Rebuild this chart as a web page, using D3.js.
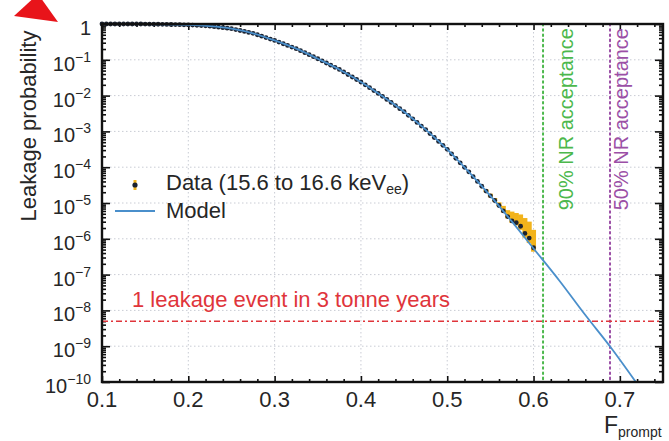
<!DOCTYPE html>
<html><head><meta charset="utf-8">
<script src="https://cdn.jsdelivr.net/npm/d3@7"></script>
<style>body{margin:0;background:#fff}svg{display:block}</style>
</head><body>
<script>
// ---- data ----
const xTickValues = [0.1, 0.2, 0.3, 0.4, 0.5, 0.6, 0.7];
const xTickLabels = ["0.1", "0.2", "0.3", "0.4", "0.5", "0.6", "0.7"];
const yExponents = [0, -1, -2, -3, -4, -5, -6, -7, -8, -9, -10];

const dataF = [0.100,0.105,0.110,0.115,0.120,0.125,0.130,0.135,0.140,0.145,
  0.150,0.155,0.160,0.165,0.170,0.175,0.180,0.185,0.190,0.195,
  0.200,0.205,0.210,0.215,0.220,0.225,0.230,0.235,0.240,0.245,
  0.250,0.255,0.260,0.265,0.270,0.275,0.280,0.285,0.290,0.295,
  0.300,0.305,0.310,0.315,0.320,0.325,0.330,0.335,0.340,0.345,
  0.350,0.355,0.360,0.365,0.370,0.375,0.380,0.385,0.390,0.395,
  0.400,0.405,0.410,0.415,0.420,0.425,0.430,0.435,0.440,0.445,
  0.450,0.455,0.460,0.465,0.470,0.475,0.480,0.485,0.490,0.495,
  0.500,0.505,0.510,0.515,0.520,0.525,0.530,0.535,0.540,0.545,
  0.550,0.555,0.560,0.565,0.570,0.575,0.580,0.585,0.590,0.595,0.600];
// log10 of leakage probability
const dataLogP = [0,0,0,0,0,0,0,0,0,0,
  -0.003,-0.004,-0.005,-0.007,-0.009,-0.011,-0.014,-0.017,-0.020,-0.022,
  -0.025,-0.031,-0.038,-0.045,-0.052,-0.060,-0.074,-0.088,-0.102,-0.116,
  -0.130,-0.156,-0.182,-0.208,-0.234,-0.260,-0.300,-0.340,-0.380,-0.420,
  -0.460,-0.506,-0.552,-0.598,-0.644,-0.690,-0.746,-0.802,-0.858,-0.914,
  -0.970,-1.030,-1.090,-1.150,-1.210,-1.270,-1.340,-1.410,-1.480,-1.550,
  -1.620,-1.700,-1.780,-1.860,-1.940,-2.020,-2.106,-2.192,-2.278,-2.364,
  -2.450,-2.550,-2.650,-2.750,-2.850,-2.950,-3.060,-3.170,-3.280,-3.390,
  -3.500,-3.626,-3.752,-3.878,-4.004,-4.130,-4.264,-4.398,-4.532,-4.666,
  -4.800,-4.930,-5.070,-5.220,-5.380,-5.500,-5.550,-5.650,-5.850,-5.980,-6.250];

const errF    = [0.545, 0.550, 0.555, 0.560, 0.565, 0.570, 0.575, 0.580, 0.585, 0.590, 0.595, 0.600];
const errLow  = [-4.70, -4.84, -4.96, -5.10, -5.26, -5.43, -5.56, -5.63, -5.75, -5.97, -6.12, -6.36];
const errHigh = [-4.62, -4.74, -4.86, -4.98, -5.08, -5.20, -5.24, -5.28, -5.32, -5.42, -5.52, -5.75];

const modelF    = [0.10, 0.15, 0.20, 0.225, 0.25, 0.275, 0.30, 0.325, 0.35, 0.375, 0.40, 0.425, 0.45, 0.475, 0.50, 0.525, 0.55, 0.575, 0.60, 0.63, 0.66, 0.69, 0.72];
const modelLogP = [0, -0.003, -0.025, -0.06, -0.13, -0.26, -0.46, -0.69, -0.97, -1.27, -1.62, -2.02, -2.45, -2.95, -3.50, -4.13, -4.80, -5.52, -6.27, -7.17, -8.13, -9.05, -10.05];

const acceptanceF = [0.611, 0.6886];
const acceptanceLabels = ["90% NR acceptance", "50% NR acceptance"];
const acceptanceColors = ["#4cb84c", "#9b4fa6"];
const acceptanceLabelX = [573, 628];
const leakageLimit = 5e-9;
const leakageLabel = "1 leakage event in 3 tonne years";

// ---- drawing ----
const W = 669, H = 441;
const FONT = "'Liberation Sans', Arial, Helvetica, sans-serif";
const svg = d3.select("body").append("svg").attr("width", W).attr("height", H)
  .style("font-family", FONT);

const x = d3.scaleLinear().domain([0.1, 0.75]).range([102, 663]);
const y = d3.scaleLog().domain([1e-10, 1]).range([382, 24]);
const [x0, x1] = x.range();
const [yb, yt] = y.range();

svg.append("defs").append("clipPath").attr("id", "plotclip")
  .append("rect").attr("x", x0).attr("y", yt).attr("width", x1 - x0).attr("height", yb - yt);

// grid
const grid = svg.append("g").attr("stroke", "#c9ccd4").attr("stroke-width", 1).attr("stroke-dasharray", "1.5,2.5");
grid.selectAll("line.v").data(xTickValues.slice(1)).join("line")
  .attr("x1", d => x(d)).attr("x2", d => x(d)).attr("y1", yt).attr("y2", yb);
grid.selectAll("line.h").data(yExponents.slice(1, -1)).join("line")
  .attr("x1", x0).attr("x2", x1).attr("y1", d => y(10 ** d)).attr("y2", d => y(10 ** d));

// minor tick values
const yMinor = [];
yExponents.slice(1).forEach(e => { for (let m = 2; m <= 9; m++) yMinor.push(m * 10 ** e); });
const xMinor = d3.range(0.12, 0.75, 0.02).filter(v => Math.abs(v * 10 - Math.round(v * 10)) > 1e-6);
const yMajor = yExponents.map(e => 10 ** e);

function tickAxis(axis, tf) {
  const g = svg.append("g").attr("transform", tf).call(axis);
  g.select(".domain").remove();
  g.selectAll("text").remove();
  g.selectAll("line").attr("stroke", "#111").attr("stroke-width", 1.6);
  return g;
}
tickAxis(d3.axisLeft(y).tickValues(yMajor).tickSizeInner(-8).tickSizeOuter(0), `translate(${x0},0)`);
tickAxis(d3.axisLeft(y).tickValues(yMinor).tickSizeInner(-4).tickSizeOuter(0), `translate(${x0},0)`);
tickAxis(d3.axisRight(y).tickValues(yMajor).tickSizeInner(-8).tickSizeOuter(0), `translate(${x1},0)`);
tickAxis(d3.axisRight(y).tickValues(yMinor).tickSizeInner(-4).tickSizeOuter(0), `translate(${x1},0)`);
tickAxis(d3.axisBottom(x).tickValues(xTickValues).tickSizeInner(-6).tickSizeOuter(0), `translate(0,${yb})`);
tickAxis(d3.axisBottom(x).tickValues(xMinor).tickSizeInner(-3).tickSizeOuter(0), `translate(0,${yb})`);
tickAxis(d3.axisTop(x).tickValues(xTickValues).tickSizeInner(-6).tickSizeOuter(0), `translate(0,${yt})`);
tickAxis(d3.axisTop(x).tickValues(xMinor).tickSizeInner(-3).tickSizeOuter(0), `translate(0,${yt})`);

// acceptance lines
acceptanceF.forEach((f, i) => {
  svg.append("line").attr("x1", x(f)).attr("x2", x(f)).attr("y1", yt).attr("y2", yb)
    .attr("stroke", acceptanceColors[i]).attr("stroke-width", 2)
    .attr("stroke-dasharray", "1.6,3.6").attr("stroke-linecap", "round");
  svg.append("text")
    .attr("transform", `translate(${acceptanceLabelX[i]},28) rotate(-90)`)
    .attr("text-anchor", "end").attr("font-size", 20).attr("fill", acceptanceColors[i])
    .text(acceptanceLabels[i]);
});

// leakage limit line
svg.append("line").attr("x1", x0).attr("x2", x1).attr("y1", y(leakageLimit)).attr("y2", y(leakageLimit))
  .attr("stroke", "#e0353b").attr("stroke-width", 1.6).attr("stroke-dasharray", "6,3,2,3");
svg.append("text").attr("x", 132).attr("y", 307).attr("font-size", 22).attr("fill", "#e0353b")
  .text(leakageLabel);

// error bars
const errG = svg.append("g").attr("stroke", "#f2b31c").attr("stroke-width", 5);
errG.selectAll("line").data(errF).join("line")
  .attr("x1", d => x(d)).attr("x2", d => x(d))
  .attr("y1", (d, i) => y(10 ** errLow[i])).attr("y2", (d, i) => y(10 ** errHigh[i]));

// data points
svg.append("g").selectAll("circle").data(dataF).join("circle")
  .attr("cx", d => x(d)).attr("cy", (d, i) => y(10 ** dataLogP[i])).attr("r", 2.4)
  .attr("fill", "#1b2230");

// model
const line = d3.line().x(d => x(d[0])).y(d => y(10 ** d[1])).curve(d3.curveMonotoneX);
svg.append("path").datum(modelF.map((f, i) => [f, modelLogP[i]]))
  .attr("clip-path", "url(#plotclip)")
  .attr("d", line).attr("fill", "none").attr("stroke", "#4a8fcb").attr("stroke-width", 1.8);

// frame
svg.append("rect").attr("x", x0).attr("y", yt).attr("width", x1 - x0).attr("height", yb - yt)
  .attr("fill", "none").attr("stroke", "#111").attr("stroke-width", 2.4);

// y tick labels
const yl = svg.append("g").attr("fill", "#262626");
yExponents.forEach(e => {
  const t = yl.append("text").attr("x", 91).attr("y", y(10 ** e) + 11).attr("text-anchor", "end");
  if (e === 0) { t.attr("font-size", 20).text("1"); }
  else {
    t.append("tspan").attr("font-size", 20).text("10");
    t.append("tspan").attr("font-size", 14).attr("dy", -9).text("\u2212" + (-e));
  }
});
// x tick labels
svg.append("g").selectAll("text").data(xTickValues).join("text")
  .attr("x", d => x(d)).attr("y", 407).attr("text-anchor", "middle")
  .attr("font-size", 22).attr("fill", "#262626").text((d, i) => xTickLabels[i]);

// axis titles
svg.append("text").attr("transform", "translate(36,126) rotate(-90)").attr("text-anchor", "middle")
  .attr("font-size", 22).attr("fill", "#262626").text("Leakage probability");
const xt = svg.append("text").attr("x", 604).attr("y", 433).attr("fill", "#262626");
xt.append("tspan").attr("font-size", 23).text("F");
xt.append("tspan").attr("font-size", 14).attr("dy", 4).text("prompt");

// legend
svg.append("line").attr("x1", 135).attr("x2", 135).attr("y1", 180).attr("y2", 190)
  .attr("stroke", "#f2b31c").attr("stroke-width", 3);
svg.append("circle").attr("cx", 135).attr("cy", 185).attr("r", 2.6).attr("fill", "#1b2230");
svg.append("line").attr("x1", 115).attr("x2", 155).attr("y1", 211).attr("y2", 211)
  .attr("stroke", "#4a8fcb").attr("stroke-width", 2);
const lt = svg.append("text").attr("x", 166).attr("y", 190).attr("font-size", 22).attr("fill", "#262626");
lt.append("tspan").text("Data (15.6 to 16.6 keV");
lt.append("tspan").attr("font-size", 14).attr("dy", 4).text("ee");
lt.append("tspan").attr("dy", -4).text(")");
svg.append("text").attr("x", 166).attr("y", 218).attr("font-size", 22).attr("fill", "#262626").text("Model");

// red arrow head in corner
svg.append("path").attr("d", "M14,16 L38,-6 L58,22 Z").attr("fill", "#e8141a");
</script>
</body></html>
